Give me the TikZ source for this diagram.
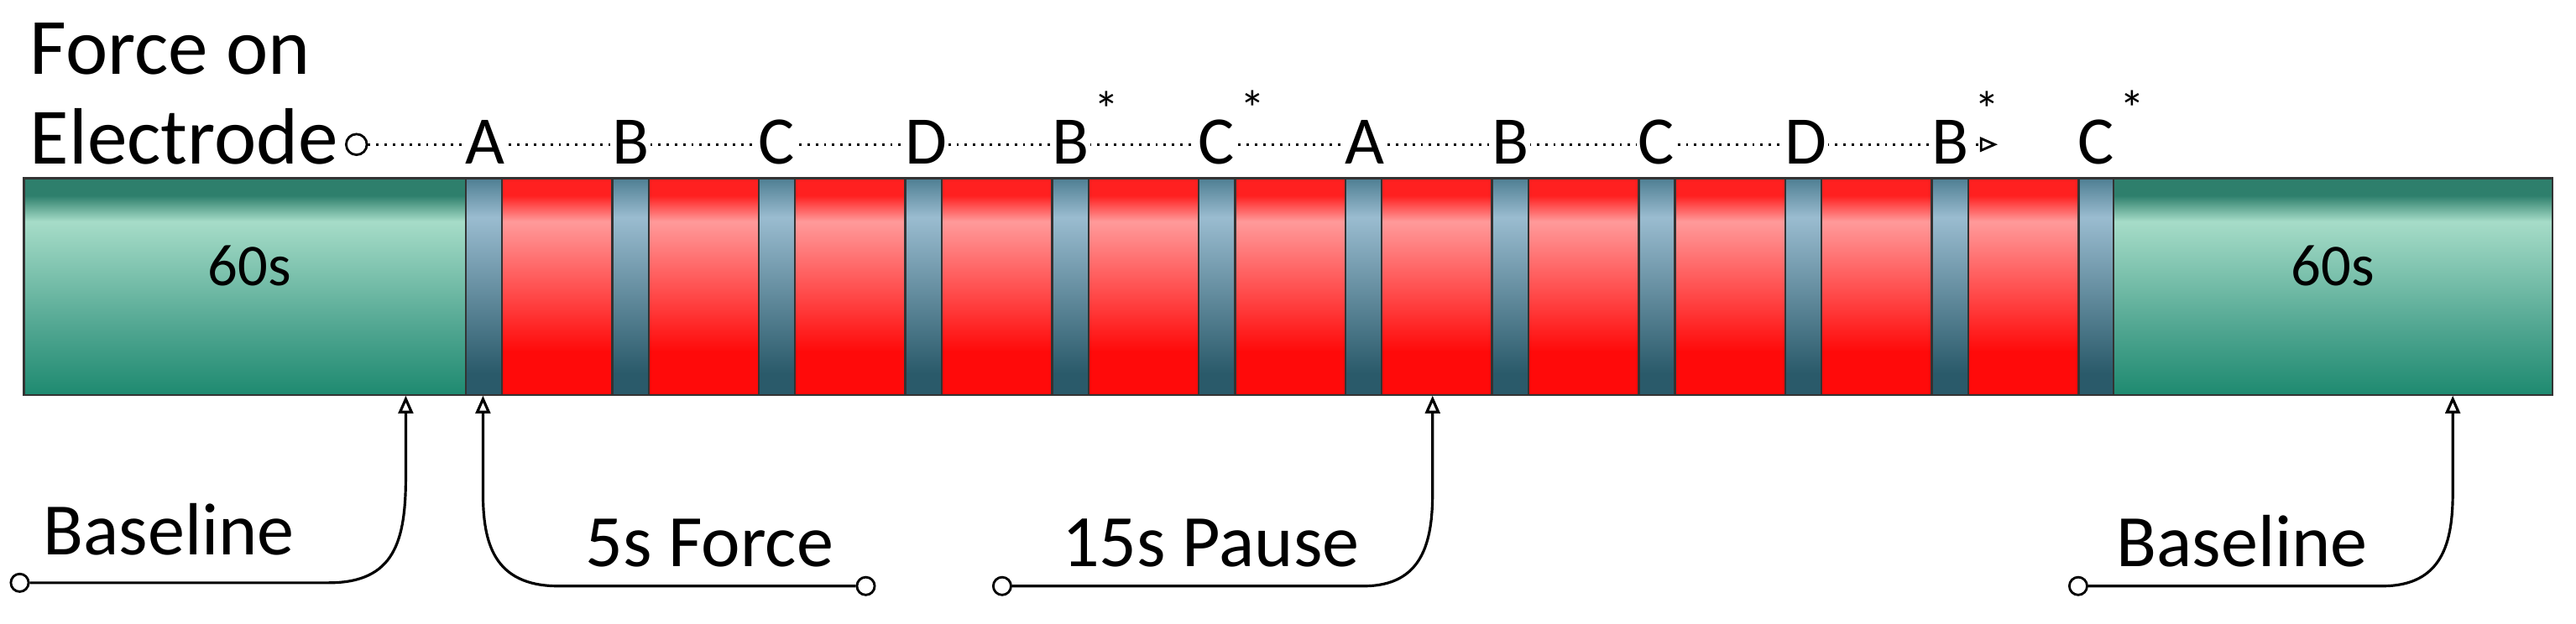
\documentclass[tikz,border=0pt]{standalone}
\usepackage{fontspec}
\setmainfont{Carlito}
\usetikzlibrary{arrows.meta}
\definecolor{gA}{HTML}{1E8A70}\definecolor{gB}{HTML}{4FA590}\definecolor{gC}{HTML}{A6DCC8}\definecolor{gD}{HTML}{2E7F6C}
\definecolor{rA}{HTML}{FF0A0A}\definecolor{rB}{HTML}{FF9A9A}\definecolor{rC}{HTML}{FF2020}
\definecolor{bA}{HTML}{2A5A6A}\definecolor{bB}{HTML}{9ABCD0}\definecolor{bC}{HTML}{4E7E92}
\pgfdeclareverticalshading{gsh}{100bp}{color(0bp)=(gA);color(25bp)=(gA);color(40bp)=(gB);color(65bp)=(gC);color(71bp)=(gD);color(75bp)=(gD);color(100bp)=(gD)}
\pgfdeclareverticalshading{rsh}{100bp}{color(0bp)=(rA);color(35bp)=(rA);color(65bp)=(rB);color(71bp)=(rC);color(75bp)=(rC);color(100bp)=(rC)}
\pgfdeclareverticalshading{bsh}{100bp}{color(0bp)=(bA);color(30bp)=(bA);color(66bp)=(bB);color(75bp)=(bC);color(100bp)=(bC)}
\tikzset{
  seg/.style={draw=black!80,line width=0.6pt,minimum height=132*0.555pt,inner sep=0,anchor=north west},
  grn/.style={seg,shading=gsh},
  red/.style={seg,shading=rsh,minimum width=67*0.555pt},
  blu/.style={seg,shading=bsh,minimum width=22*0.555pt},
  lab/.style={font=\fontsize{23}{24}\selectfont,fill=white,inner sep=0.5pt},
  star/.style={font=\fontsize{17}{18}\selectfont,inner sep=0,anchor=south west},
  big/.style={font=\fontsize{25}{26}\selectfont,anchor=west},
  call/.style={line width=0.9pt,-{Triangle[open,length=6pt,width=5pt]}},
  dot/.style={circle,draw,line width=0.8pt,fill=white,inner sep=0,minimum size=6pt}
}
\begin{document}
\begin{tikzpicture}[x=0.555pt,y=-0.555pt]
\useasboundingbox (0,0) rectangle (1568,380);
% bar
\node[grn,minimum width=269*0.555pt] (g1) at (14,108) {};
\node[font=\fontsize{20}{21}\selectfont] at (152,162) {60s};
\foreach \i [evaluate=\i as \xx using 283+89.25*\i] in {0,...,11}{
  \node[blu] (b\i) at (\xx,108) {};
  \ifnum\i<11 \node[red] (r\i) at (\xx+22,108) {};\fi
}
\node[grn,minimum width=267*0.555pt] (g2) at (1286,108) {};
\node[font=\fontsize{20}{21}\selectfont] at (1420,162) {60s};
% top
\node[big,font=\fontsize{27}{28}\selectfont,anchor=base west] (f1) at (12,45) {Force on};
\node[big,font=\fontsize{27}{28}\selectfont,anchor=base west] (f2) at (12,100) {Electrode};
\node[dot,minimum size=7pt] (c0) at (217,88) {};
\coordinate (arrE) at (1216,88);
\draw[dotted,line width=0.8pt,-{Triangle[open,length=6pt,width=5pt]}] (c0) -- (arrE);
\foreach \i/\t in {0/A,1/B,2/C,3/D,4/B,5/C,6/A,7/B,8/C,9/D,10/B,11/C}{
  \node[lab,anchor=base west] (L\i) at (282+89.25*\i,100) {\t};
}
\foreach \i in {4,5,10,11}{
  \node[star] (S\i) at ([xshift=1pt,yshift=-3pt]L\i.north east) {*};
}
% bottom callouts
\node[big,anchor=base west] (t1) at (20,338) {Baseline};
\node[dot] (d1) at (12,355) {};
\coordinate (a1) at (247,241);
\draw[call] (d1) -- (200,355) .. controls (240,355) and (247,330) .. (247,290) -- (a1);
\node[big,anchor=base west] (t2) at (350,345) {5s Force};
\node[dot] (d2) at (527,357) {};
\coordinate (a2) at (294,241);
\draw[call] (d2) -- (340,357) .. controls (300,357) and (294,330) .. (294,300) -- (a2);
\node[big,anchor=base west] (t3) at (640,345) {15s Pause};
\node[dot] (d3) at (610,357) {};
\coordinate (a3) at (872,241);
\draw[call] (d3) -- (830,357) .. controls (866,357) and (872,330) .. (872,300) -- (a3);
\node[big,anchor=base west] (t4) at (1282,345) {Baseline};
\node[dot] (d4) at (1265,357) {};
\coordinate (a4) at (1493,241);
\draw[call] (d4) -- (1450,357) .. controls (1487,357) and (1493,330) .. (1493,300) -- (a4);
\end{tikzpicture}
\end{document}
